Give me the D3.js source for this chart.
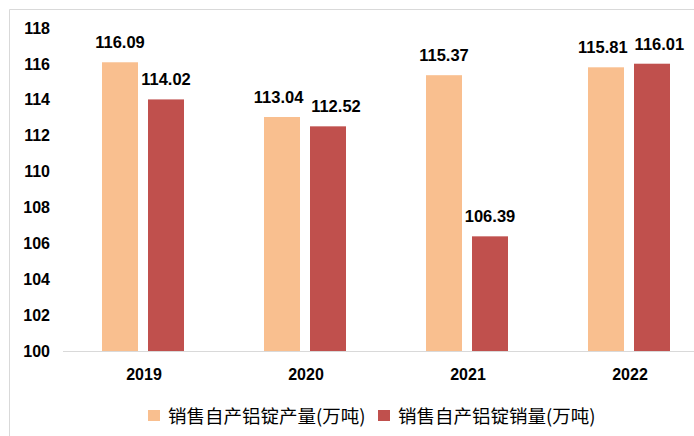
<!DOCTYPE html>
<html>
<head>
<meta charset="utf-8">
<script src="https://cdn.jsdelivr.net/npm/d3@7"></script>
<style>
  body { margin: 0; background: #fff; }
  svg { display: block; }
</style>
</head>
<body>
<div id="chart"></div>
<script>
// Chart dimensions.
const WIDTH = 694;
const HEIGHT = 436;

// Data.
const years = ["2019", "2020", "2021", "2022"];
const production = [116.09, 113.04, 115.37, 115.81];
const sales = [114.02, 112.52, 106.39, 116.01];
const seriesNames = ["销售自产铝锭产量(万吨)", "销售自产铝锭销量(万吨)"];
const yTicks = [100, 102, 104, 106, 108, 110, 112, 114, 116, 118];

const COLORS = ["#f9bf8f", "#c0504d"];
const NUM_FONT = "Liberation Sans, Arial, sans-serif";

const svg = d3
  .select("#chart")
  .append("svg")
  .attr("width", WIDTH)
  .attr("height", HEIGHT);

// Outer chart frame (right side is cut off in the original).
svg.append("path")
  .attr("d", "M9.5,436 V9.5 H694")
  .attr("fill", "none")
  .attr("stroke", "#d9d9d9");

// Plot area is wider than the window: the original is cropped on the right.
let x = d3.scaleBand().domain(years).range([63, 711]);
let y = d3.scaleLinear().domain([100, 118]).range([351, 28]);

const BAR_W = 36;
const offsets = [-42, 4]; // left edge of each series bar from band centre

// Baseline.
svg.append("line")
  .attr("x1", 63).attr("x2", WIDTH)
  .attr("y1", y(100) + 0.5).attr("y2", y(100) + 0.5)
  .attr("stroke", "#d9d9d9");

// Y axis labels.
let yAxis = d3.axisLeft(y).tickValues(yTicks).tickSize(0).tickPadding(0);
svg.append("g")
  .attr("transform", "translate(50,0)")
  .call(yAxis)
  .call((g) => g.select(".domain").remove())
  .selectAll("text")
  .attr("font-family", NUM_FONT)
  .attr("font-size", 16)
  .attr("font-weight", "bold")
  .attr("fill", "#000");

// X axis labels.
let xAxis = d3.axisBottom(x).tickSize(0).tickPadding(0);
svg.append("g")
  .attr("transform", "translate(0,369)")
  .call(xAxis)
  .call((g) => g.select(".domain").remove())
  .selectAll("text")
  .attr("font-family", NUM_FONT)
  .attr("font-size", 16)
  .attr("font-weight", "bold")
  .attr("fill", "#000");

// Bars and value labels.
let labels = [];
[production, sales].forEach((values, s) => {
  let g = svg.append("g");
  let rows = years.map((yr, i) => ({ year: yr, value: values[i] }));

  g.selectAll("rect")
    .data(rows)
    .enter()
    .append("rect")
    .attr("x", (d) => x(d.year) + x.bandwidth() / 2 + offsets[s])
    .attr("y", (d) => y(d.value))
    .attr("width", BAR_W)
    .attr("height", (d) => y(100) - y(d.value))
    .attr("fill", COLORS[s]);

  labels.push(
    g.selectAll("text")
      .data(rows)
      .enter()
      .append("text")
      .attr("x", (d) => x(d.year) + x.bandwidth() / 2 + offsets[s] + BAR_W / 2)
      .attr("y", (d) => y(d.value) - 14)
      .attr("text-anchor", "middle")
      .attr("font-family", NUM_FONT)
      .attr("font-size", 16.5)
      .attr("font-weight", "bold")
      .attr("fill", "#000")
      .text((d) => d.value.toFixed(2))
      .nodes()
  );
});

// Push apart labels of the same year when they sit at similar heights.
years.forEach((yr, i) => {
  let a = labels[0][i].getBBox();
  let b = labels[1][i].getBBox();
  let vOverlap = Math.abs(a.y - b.y) < a.height;
  let gap = b.x - (a.x + a.width);
  if (vOverlap && gap < 7) {
    let shift = 7 - gap;
    d3.select(labels[0][i]).attr("x", +labels[0][i].getAttribute("x") - shift * 0.3);
    d3.select(labels[1][i]).attr("x", +labels[1][i].getAttribute("x") + shift * 0.7);
  }
});

// Legend.
const legendX = [148, 378];
let legend = svg.append("g");
seriesNames.forEach((name, s) => {
  legend.append("rect")
    .attr("x", legendX[s])
    .attr("y", 410)
    .attr("width", 12)
    .attr("height", 11)
    .attr("fill", COLORS[s]);
  legend.append("text")
    .attr("x", legendX[s] + 20)
    .attr("y", 423)
    .attr("font-family", "Noto Sans CJK SC, sans-serif")
    .attr("font-size", 18.5)
    .attr("fill", "#000")
    .text(name);
});
</script>
</body>
</html>
